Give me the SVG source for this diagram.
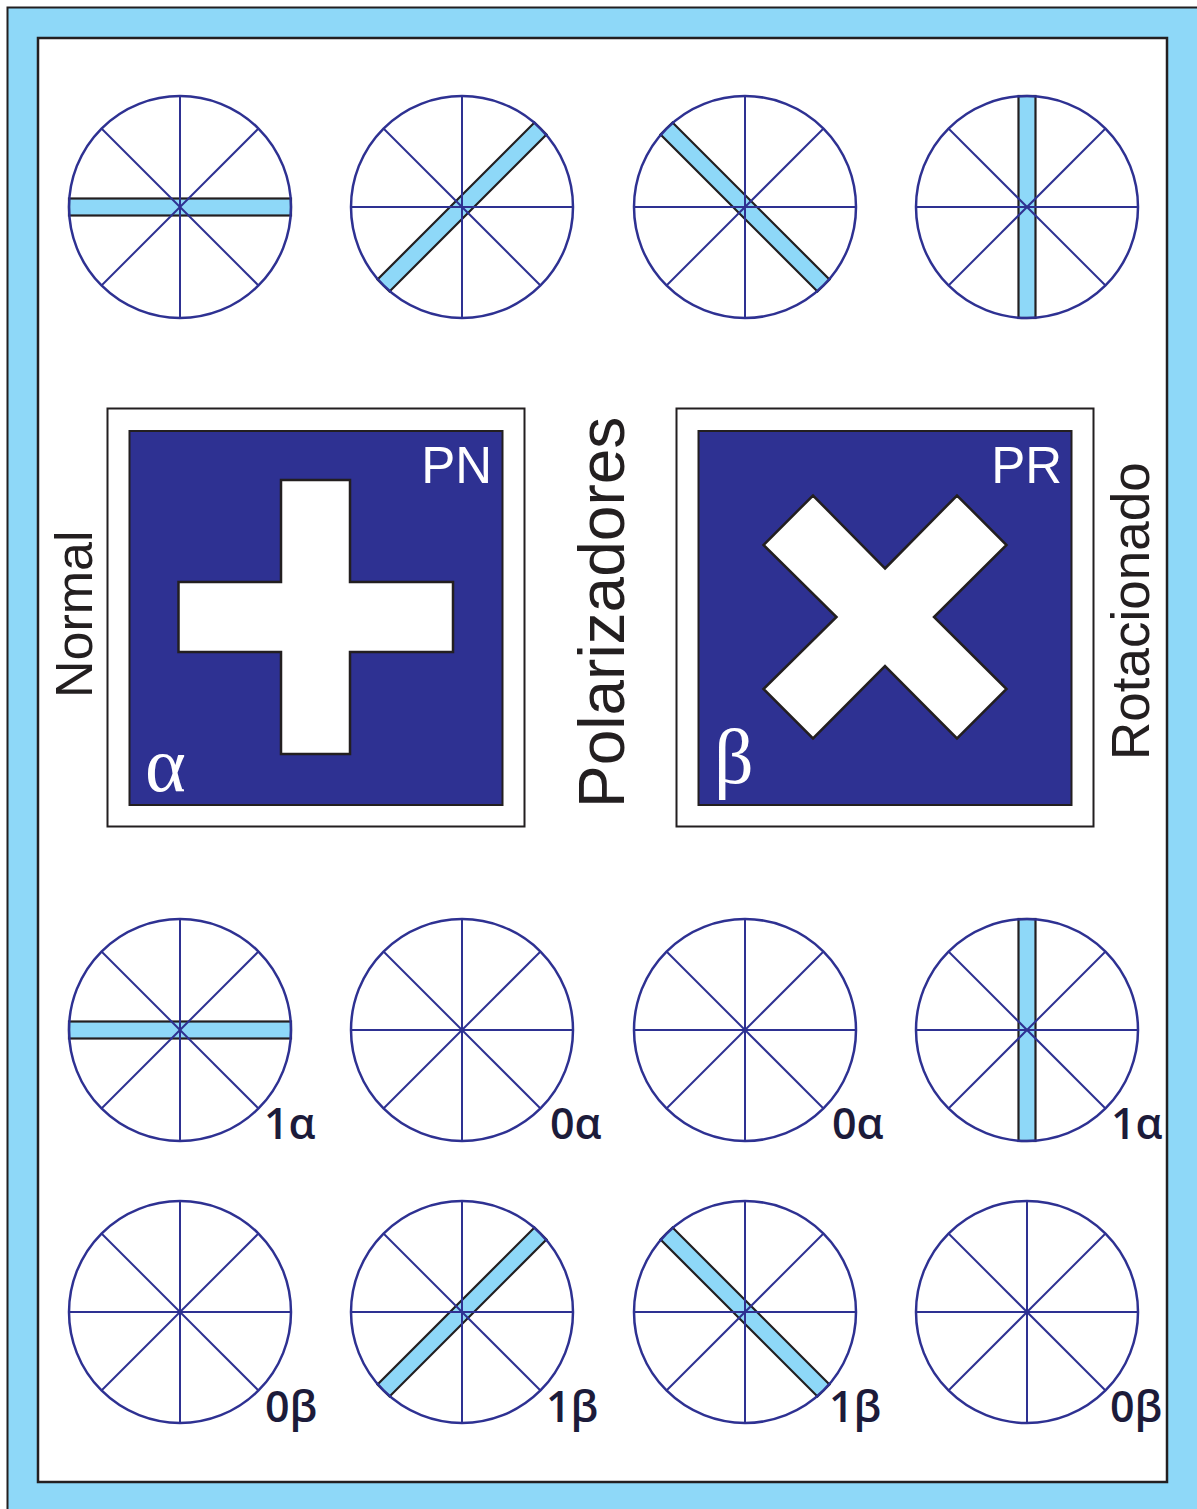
<svg xmlns="http://www.w3.org/2000/svg" xmlns:xlink="http://www.w3.org/1999/xlink" width="1197" height="1509" viewBox="0 0 1197 1509">
  <style>
    .spoke{stroke:#2e3192;stroke-width:2;fill:none}
    .rim{stroke:#2e3192;stroke-width:2.5;fill:none}
    .bar{fill:#8ed8f8;stroke:#231f20;stroke-width:2.2}
    .lbl{font-family:"Open Sans","Liberation Sans",sans-serif;font-size:43px;font-weight:600;fill:#1c1b3a}
    .side{font-family:"Liberation Sans",Arial,sans-serif;fill:#231f20}
    .boxtxt{font-family:"Liberation Sans",Arial,sans-serif;font-size:51px;fill:#ffffff}
    .greek{font-family:"Liberation Serif","Times New Roman",serif;font-size:78px;fill:#ffffff}
    .shape{fill:#ffffff;stroke:#231f20;stroke-width:2.5}
  </style>
  <defs>
    <line id="s0" class="spoke" x1="-111" y1="0" x2="111" y2="0"/>
    <line id="s45" class="spoke" x1="-78.5" y1="-78.5" x2="78.5" y2="78.5"/>
    <line id="s90" class="spoke" x1="0" y1="-111" x2="0" y2="111"/>
    <line id="s135" class="spoke" x1="-78.5" y1="78.5" x2="78.5" y2="-78.5"/>
    <rect id="bar" class="bar" x="-111" y="-8.5" width="222" height="17"/>
    <circle id="rim" class="rim" cx="0" cy="0" r="111"/>
  </defs>

  <g id="frame">
    <rect x="7.5" y="7.5" width="1205" height="1515" fill="#8ed8f8" stroke="#231f20" stroke-width="2"/>
    <rect x="38" y="38" width="1129" height="1444" fill="#ffffff" stroke="#231f20" stroke-width="2.5"/>
  </g>

  <!-- Row 1 -->
  <g id="r1c1" transform="translate(180,207)">
    <use href="#bar"/>
    <use href="#s45"/><use href="#s90"/><use href="#s135"/>
    <use href="#rim"/>
  </g>
  <g id="r1c2" transform="translate(462,207)">
    <use href="#bar" transform="rotate(-45)"/>
    <use href="#s0"/><use href="#s45"/><use href="#s90"/>
    <use href="#rim"/>
  </g>
  <g id="r1c3" transform="translate(745,207)">
    <use href="#bar" transform="rotate(45)"/>
    <use href="#s0"/><use href="#s90"/><use href="#s135"/>
    <use href="#rim"/>
  </g>
  <g id="r1c4" transform="translate(1027,207)">
    <use href="#bar" transform="rotate(90)"/>
    <use href="#s0"/><use href="#s45"/><use href="#s135"/>
    <use href="#rim"/>
  </g>

  <!-- Boxes -->
  <g id="boxPN">
    <rect x="107.5" y="408.5" width="417" height="418" fill="#ffffff" stroke="#231f20" stroke-width="2"/>
    <rect x="129.5" y="431" width="373" height="374" fill="#2e3192" stroke="#231f20" stroke-width="2"/>
    <path class="shape" d="M281,480 H350 V582 H453 V652 H350 V754 H281 V652 H178.5 V582 H281 Z"/>
    <text class="boxtxt" x="492" y="483" text-anchor="end">PN</text>
    <text class="greek" x="145" y="791">α</text>
  </g>
  <g id="boxPR">
    <rect x="676.5" y="408.5" width="417" height="418" fill="#ffffff" stroke="#231f20" stroke-width="2"/>
    <rect x="698.5" y="431" width="373" height="374" fill="#2e3192" stroke="#231f20" stroke-width="2"/>
    <polygon class="shape" points="885,568.5 957,495.5 1006.5,545 934,617 1006.5,689 957,738.5 885,666 813,738.5 763.5,689 836.5,617 763.5,545 813,495.5"/>
    <text class="boxtxt" x="1062" y="483" text-anchor="end">PR</text>
    <text class="greek" x="714" y="783">β</text>
  </g>

  <g id="labels">
    <text class="side" font-size="52" transform="translate(92,698) rotate(-90)">Normal</text>
    <text class="side" font-size="64" transform="translate(624,808) rotate(-90)">Polarizadores</text>
    <text class="side" font-size="53" transform="translate(1149,760) rotate(-90)">Rotacionado</text>
  </g>

  <!-- Row 3 -->
  <g id="r3c1" transform="translate(180,1030)">
    <use href="#bar"/>
    <use href="#s45"/><use href="#s90"/><use href="#s135"/>
    <use href="#rim"/>
  </g>
  <g id="r3c2" transform="translate(462,1030)">
    <use href="#s0"/><use href="#s45"/><use href="#s90"/><use href="#s135"/>
    <use href="#rim"/>
  </g>
  <g id="r3c3" transform="translate(745,1030)">
    <use href="#s0"/><use href="#s45"/><use href="#s90"/><use href="#s135"/>
    <use href="#rim"/>
  </g>
  <g id="r3c4" transform="translate(1027,1030)">
    <use href="#bar" transform="rotate(90)"/>
    <use href="#s0"/><use href="#s45"/><use href="#s135"/>
    <use href="#rim"/>
  </g>

  <!-- Row 4 -->
  <g id="r4c1" transform="translate(180,1312)">
    <use href="#s0"/><use href="#s45"/><use href="#s90"/><use href="#s135"/>
    <use href="#rim"/>
  </g>
  <g id="r4c2" transform="translate(462,1312)">
    <use href="#bar" transform="rotate(-45)"/>
    <use href="#s0"/><use href="#s45"/><use href="#s90"/>
    <use href="#rim"/>
  </g>
  <g id="r4c3" transform="translate(745,1312)">
    <use href="#bar" transform="rotate(45)"/>
    <use href="#s0"/><use href="#s90"/><use href="#s135"/>
    <use href="#rim"/>
  </g>
  <g id="r4c4" transform="translate(1027,1312)">
    <use href="#s0"/><use href="#s45"/><use href="#s90"/><use href="#s135"/>
    <use href="#rim"/>
  </g>

  <g id="wheel-labels">
    <text class="lbl" x="264" y="1139">1α</text>
    <text class="lbl" x="550" y="1139">0α</text>
    <text class="lbl" x="832" y="1139">0α</text>
    <text class="lbl" x="1111" y="1139">1α</text>
    <text class="lbl" x="265" y="1422">0β</text>
    <text class="lbl" x="546" y="1422">1β</text>
    <text class="lbl" x="829" y="1422">1β</text>
    <text class="lbl" x="1110" y="1422">0β</text>
  </g>
</svg>
